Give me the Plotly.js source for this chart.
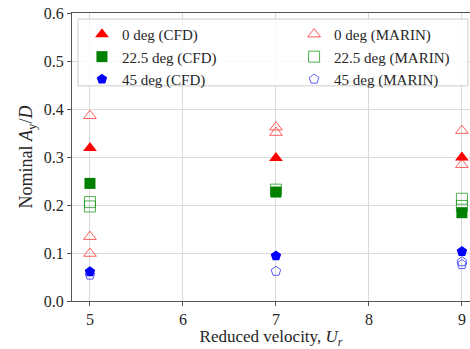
<!DOCTYPE html>
<html>
<head>
<meta charset="utf-8">
<script src="https://cdn.plot.ly/plotly-3.0.1.min.js"></script>
<style>html,body{margin:0;padding:0;background:#fff}#chart{width:470px;height:349px}</style>
</head>
<body>
<div id="chart"></div>
<script>
// Reduced velocity positions and nominal Ay/D values
const cfd0_x = [5, 7, 9];
const cfd0_y = [0.319, 0.298, 0.299];
const marin0_x = [5, 5, 5, 7, 7, 9, 9];
const marin0_y = [0.386, 0.134, 0.099, 0.362, 0.351, 0.355, 0.284];
const cfd22_x = [5, 7, 9];
const cfd22_y = [0.245, 0.227, 0.184];
const marin22_x = [5, 5, 7, 9, 9];
const marin22_y = [0.206, 0.197, 0.232, 0.213, 0.198];
const cfd45_x = [5, 7, 9];
const cfd45_y = [0.061, 0.094, 0.103];
const marin45_x = [5, 7, 9, 9];
const marin45_y = [0.054, 0.062, 0.082, 0.076];

const names = ['0 deg (CFD)', '22.5 deg (CFD)', '45 deg (CFD)', '0 deg (MARIN)', '22.5 deg (MARIN)', '45 deg (MARIN)'];
const xTicks = [5, 6, 7, 8, 9];

const serif = 'Liberation Serif';

function tr(x, y, name, symbol, color, size, lw, leg) {
  return {
    x: x, y: y, name: name, type: 'scatter', mode: 'markers',
    marker: {symbol: symbol, color: color, size: size, line: {width: lw, color: color}},
    cliponaxis: false, legend: leg
  };
}

const data = [
  tr(marin0_x, marin0_y, names[3], 'triangle-up-open', 'rgba(255,40,40,0.75)', 11, 1, 'legend2'),
  tr(marin22_x, marin22_y, names[4], 'square-open', 'rgba(20,150,20,0.75)', 11, 1, 'legend2'),
  tr(marin45_x, marin45_y, names[5], 'pentagon-open', 'rgba(40,40,255,0.75)', 10, 1, 'legend2'),
  tr(cfd0_x, cfd0_y, names[0], 'triangle-up', '#ff0000', 12, 0, 'legend'),
  tr(cfd22_x, cfd22_y, names[1], 'square', '#008000', 11, 0, 'legend'),
  tr(cfd45_x, cfd45_y, names[2], 'pentagon', '#0000ff', 11, 0, 'legend')
];
const rank = {};
names.forEach((n, i) => rank[n] = i + 1);
data.forEach(d => d.legendrank = rank[d.name]);

const legFont = {family: serif, size: 15, color: '#262626'};
const legBase = {
  orientation: 'v', xanchor: 'left', yanchor: 'top', y: 0.983,
  bgcolor: 'rgba(0,0,0,0)', borderwidth: 0, font: legFont,
  traceorder: 'normal', itemwidth: 30, tracegroupgap: 0
};

const layout = {
  width: 470, height: 349,
  margin: {l: 72, r: 0, t: 13, b: 48},
  paper_bgcolor: '#fff', plot_bgcolor: '#fff',
  font: {family: serif, size: 16, color: '#262626'},
  showlegend: true,
  legend: Object.assign({}, legBase, {x: 0.025}),
  legend2: Object.assign({}, legBase, {x: 0.558}),
  shapes: [{
    type: 'rect', xref: 'paper', yref: 'paper',
    x0: 0.015, x1: 0.995, y0: 0.747, y1: 0.979,
    line: {color: '#cccccc', width: 1}, fillcolor: 'rgba(255,255,255,0.85)', layer: 'above'
  }],
  xaxis: {
    range: [4.807, 9.087], tickvals: xTicks, ticktext: xTicks.map(String),
    showgrid: true, gridcolor: '#dadada', gridwidth: 1,
    showline: true, linecolor: '#555', linewidth: 1, mirror: true,
    ticks: 'outside', ticklen: 4, tickcolor: '#555',
    zeroline: false, automargin: false,
    tickfont: {family: serif, size: 16, color: '#262626'},
    title: {text: 'Reduced velocity, <i>U</i><sub><i>r</i></sub>', font: {family: serif, size: 17, color: '#262626'}, standoff: 7}
  },
  yaxis: {
    range: [0, 0.6], dtick: 0.1, tickformat: '.1f',
    showgrid: true, gridcolor: '#dadada', gridwidth: 1,
    showline: true, linecolor: '#555', linewidth: 1, mirror: false,
    ticks: 'outside', ticklen: 4, tickcolor: '#555',
    zeroline: false, automargin: false,
    tickfont: {family: serif, size: 16, color: '#262626'},
    title: {text: 'Nominal <i>A</i><sub>y</sub>/<i>D</i>', font: {family: serif, size: 18, color: '#262626'}, standoff: 6}
  }
};

Plotly.newPlot('chart', data, layout, {staticPlot: true, displayModeBar: false});
</script>
</body>
</html>
